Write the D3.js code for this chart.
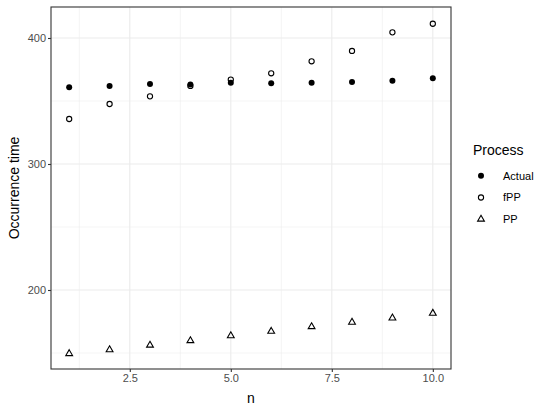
<!DOCTYPE html>
<html>
<head>
<meta charset="utf-8">
<script src="https://cdn.jsdelivr.net/npm/d3@7"></script>
<style>
  body { margin: 0; background: #fff; }
  svg { font-family: "Liberation Sans", Arial, sans-serif; }
</style>
</head>
<body>
<svg id="chart" width="551" height="412"></svg>
<script>
const nValues = [1, 2, 3, 4, 5, 6, 7, 8, 9, 10]
const actual = [361, 362, 363.5, 363, 364.5, 364, 364.5, 365, 366, 368]
const fpp = [335.7, 347.6, 353.7, 362, 367, 372, 381.5, 389.7, 404.5, 411.3]
const pp = [149.5, 152.6, 156.2, 159.8, 163.7, 167.2, 170.9, 174.4, 177.8, 181.5]
const xTicks = [2.5, 5.0, 7.5, 10.0]
const xMinor = [1.25, 3.75, 6.25, 8.75]
const yTicks = [200, 300, 400]
const yMinor = [150, 250, 350]
const processes = ['Actual', 'fPP', 'PP']

const svg = d3.select('#chart')
const panel = { left: 51, right: 451, top: 7, bottom: 369 }

const x = d3.scaleLinear().domain([0.55, 10.45]).range([panel.left, panel.right])
const y = d3.scaleLinear().domain([137.3, 424.6]).range([panel.bottom, panel.top])

// grid
const grid = svg.append('g')
grid.selectAll('.ymin').data(yMinor).enter().append('line')
  .attr('x1', panel.left).attr('x2', panel.right)
  .attr('y1', d => y(d)).attr('y2', d => y(d))
  .attr('stroke', '#ebebeb').attr('stroke-width', 0.55)
grid.selectAll('.xmin').data(xMinor).enter().append('line')
  .attr('y1', panel.top).attr('y2', panel.bottom)
  .attr('x1', d => x(d)).attr('x2', d => x(d))
  .attr('stroke', '#ebebeb').attr('stroke-width', 0.55)
grid.selectAll('.ymaj').data(yTicks).enter().append('line')
  .attr('x1', panel.left).attr('x2', panel.right)
  .attr('y1', d => y(d)).attr('y2', d => y(d))
  .attr('stroke', '#ebebeb').attr('stroke-width', 1.1)
grid.selectAll('.xmaj').data(xTicks).enter().append('line')
  .attr('y1', panel.top).attr('y2', panel.bottom)
  .attr('x1', d => x(d)).attr('x2', d => x(d))
  .attr('stroke', '#ebebeb').attr('stroke-width', 1.1)

// axes
const xAxis = svg.append('g')
  .attr('transform', `translate(0,${panel.bottom})`)
  .call(d3.axisBottom(x).tickValues(xTicks).tickFormat(d3.format('.1f')).tickSize(3).tickSizeOuter(0))
const yAxis = svg.append('g')
  .attr('transform', `translate(${panel.left},0)`)
  .call(d3.axisLeft(y).tickValues(yTicks).tickSize(3).tickSizeOuter(0))
for (const ax of [xAxis, yAxis]) {
  ax.select('.domain').remove()
  ax.selectAll('.tick line').attr('stroke', '#333333').attr('stroke-width', 1.1)
  ax.selectAll('.tick text').attr('fill', '#4d4d4d').attr('font-size', 11)
    .attr('font-family', '"Liberation Sans", Arial, sans-serif')
}
xAxis.selectAll('.tick text').attr('dy', '0.71em').attr('y', 5)
yAxis.selectAll('.tick text').attr('x', -5)

// points
const pts = svg.append('g')
pts.selectAll('.actual').data(nValues).enter().append('circle')
  .attr('cx', d => x(d)).attr('cy', (d, i) => y(actual[i]))
  .attr('r', 3).attr('fill', '#000')
pts.selectAll('.fpp').data(nValues).enter().append('circle')
  .attr('cx', d => x(d)).attr('cy', (d, i) => y(fpp[i]))
  .attr('r', 2.6).attr('fill', 'none').attr('stroke', '#000').attr('stroke-width', 1.1)
const tri = d3.symbol().type(d3.symbolTriangle).size(20)
pts.selectAll('.pp').data(nValues).enter().append('path')
  .attr('d', tri)
  .attr('transform', (d, i) => `translate(${x(d)},${y(pp[i])})`)
  .attr('fill', 'none').attr('stroke', '#000').attr('stroke-width', 1.1)

// panel border
svg.append('rect')
  .attr('x', panel.left).attr('y', panel.top)
  .attr('width', panel.right - panel.left).attr('height', panel.bottom - panel.top)
  .attr('fill', 'none').attr('stroke', '#333333').attr('stroke-width', 1.1)

// axis titles
svg.append('text').attr('x', (panel.left + panel.right) / 2).attr('y', 403)
  .attr('text-anchor', 'middle').attr('font-size', 14).text('n')
svg.append('text')
  .attr('transform', `translate(19,${(panel.top + panel.bottom) / 2}) rotate(-90)`)
  .attr('text-anchor', 'middle').attr('font-size', 14).text('Occurrence time')

// legend
const legend = svg.append('g').attr('transform', 'translate(473,0)')
legend.append('text').attr('x', 0).attr('y', 155).attr('font-size', 14).text('Process')
const keyY = d3.scaleBand().domain(processes).range([165, 230])
processes.forEach(p => {
  const cy = keyY(p) + keyY.bandwidth() / 2
  const g = legend.append('g').attr('transform', `translate(8,${cy})`)
  if (p === 'Actual') g.append('circle').attr('r', 3).attr('fill', '#000')
  else if (p === 'fPP') g.append('circle').attr('r', 2.6).attr('fill', 'none').attr('stroke', '#000').attr('stroke-width', 1.1)
  else g.append('path').attr('d', tri).attr('fill', 'none').attr('stroke', '#000').attr('stroke-width', 1.1)
  legend.append('text').attr('x', 30).attr('y', cy).attr('dy', '0.35em')
    .attr('font-size', 11).text(p)
})
</script>
</body>
</html>
